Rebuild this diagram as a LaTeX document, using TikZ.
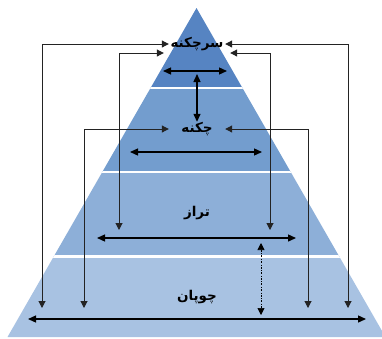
\documentclass[tikz,border=0pt]{standalone}
\usepackage{fontspec}
\usetikzlibrary{arrows.meta,calc}
\TeXXeTstate=1
\newfontfamily\arabicfont[Script=Arabic]{DejaVu Sans}
\definecolor{lvone}{RGB}{86,132,194}
\definecolor{lvtwo}{RGB}{115,157,206}
\definecolor{lvthree}{RGB}{141,175,216}
\definecolor{lvfour}{RGB}{168,194,226}
\definecolor{linegray}{RGB}{35,35,35}

\begin{document}
\begin{tikzpicture}[x=1pt,y=-1pt,
  lbl/.style={font=\arabicfont\bfseries\fontsize{13.5}{16}\selectfont, inner sep=0pt,
              minimum width=56pt, minimum height=14pt},
  conn/.style={{Triangle[length=7pt,width=7pt]}-{Triangle[length=7pt,width=7pt]}, linegray, line width=1pt},
  wid/.style={{Triangle[length=8pt,width=7pt]}-{Triangle[length=8pt,width=7pt]}, black, line width=1.3pt},
  dotar/.style={{Triangle[length=7pt,width=7pt]}-{Triangle[length=7pt,width=7pt]}, black, line width=0.7pt,
                dash pattern=on 2pt off 1.5pt on 0.6pt off 1.5pt},
  gap/.style={white, line width=2.5pt}
]
\useasboundingbox (0,0) rectangle (382,338);
\coordinate (ap) at (196.5,8);
\coordinate (bl) at (7.5,337);
\coordinate (br) at (385.5,337);
\begin{scope}
\clip (0,0) rectangle (382,338);
\clip (ap) -- (bl) -- (br) -- cycle;
\fill[lvone] (0,0) rectangle (382,88);
\fill[lvtwo] (0,88) rectangle (382,172);
\fill[lvthree] (0,172) rectangle (382,256.5);
\fill[lvfour] (0,256.5) rectangle (382,338);
\foreach \y in {88,172,256.5} \draw[gap] (0,\y) -- (382,\y);
\end{scope}

\node[lbl](sc) at (197,44){\beginR سرچکنه\endR};
\node[lbl](ck) at (197,129){\beginR چکنه\endR};
\node[lbl](tz) at (197,213){\beginR تراز\endR};
\node[lbl](cp) at (197,297){\beginR چوپان\endR};

\coordinate (a1) at (42,308);
\coordinate (a2) at (348,308);
\coordinate (b1) at (119,230);
\coordinate (b2) at (270,230);
\coordinate (c1) at (84,308);
\coordinate (c2) at (308,308);
\draw[conn](sc.west) -| (a1);
\draw[conn](sc.east) -| (a2);
\draw[conn]([shift={(-5,9)}]sc.west) -| (b1);
\draw[conn]([shift={(5,9)}]sc.east) -| (b2);
\draw[conn](ck.west) -| (c1);
\draw[conn](ck.east) -| (c2);

\coordinate (w1l) at (163,71);  \coordinate (w1r) at (227,71);
\coordinate (w2l) at (130,152); \coordinate (w2r) at (262,152);
\coordinate (w3l) at (97,238);  \coordinate (w3r) at (296,238);
\coordinate (w4l) at (28,319);  \coordinate (w4r) at (366,319);
\draw[wid](w1l) -- (w1r);
\draw[wid](w2l) -- (w2r);
\draw[wid](w3l) -- (w3r);
\draw[wid](w4l) -- (w4r);
\coordinate (m1) at (197,74);
\draw[wid](ck.north) -- (m1);
\coordinate (d1) at (261,243);
\coordinate (d2) at (261,315);
\draw[dotar](d1) -- (d2);
\end{tikzpicture}
\end{document}
